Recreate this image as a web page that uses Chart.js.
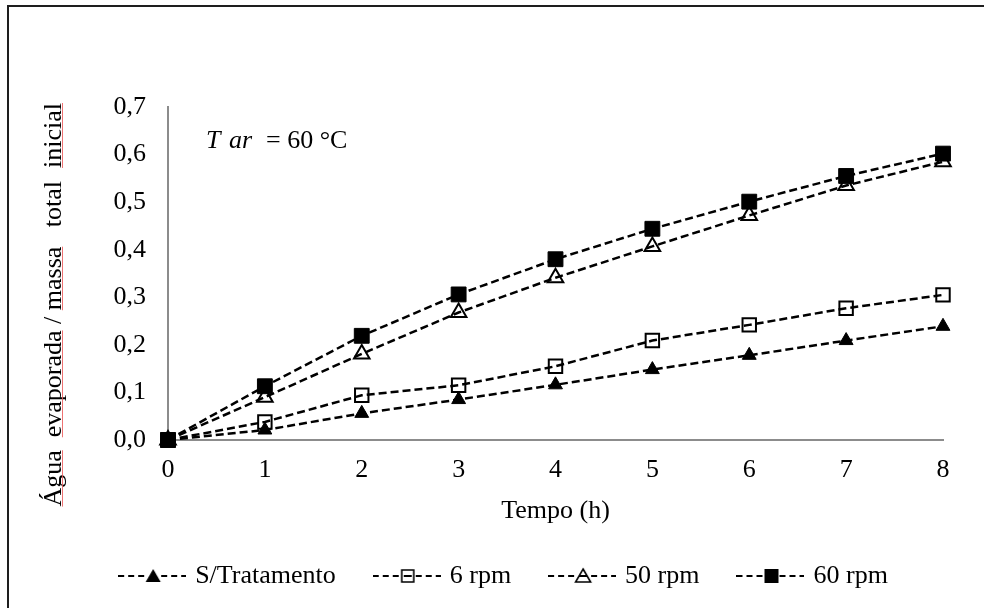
<!DOCTYPE html>
<html><head><meta charset="utf-8">
<script src="https://cdn.jsdelivr.net/npm/chart.js@4.4.1/dist/chart.umd.min.js"></script>
<style>
html,body{margin:0;padding:0;overflow:hidden;background:#fff;}
#wrap{position:relative;width:984px;height:608px;overflow:hidden;}
#frame{position:absolute;left:7px;top:5px;width:1100px;height:800px;border:2px solid #1e1e1e;box-sizing:border-box;pointer-events:none;}
canvas{position:absolute;left:0;top:0;}
</style></head>
<body><div id="wrap"><canvas id="c" width="984" height="608"></canvas><div id="frame"></div></div>
<script>
// ---- data ----
const timeLabels = ['0','1','2','3','4','5','6','7','8'];
const semTratamento = [0, 0.021, 0.056, 0.085, 0.116, 0.148, 0.178, 0.209, 0.239];
const rpm6  = [0, 0.038, 0.094, 0.115, 0.155, 0.209, 0.242, 0.277, 0.305];
const rpm50 = [0, 0.090, 0.181, 0.268, 0.341, 0.407, 0.472, 0.535, 0.585];
const rpm60 = [0, 0.113, 0.219, 0.306, 0.380, 0.444, 0.501, 0.555, 0.602];
const seriesNames = ['S/Tratamento', '6 rpm', '50 rpm', '60 rpm'];
const yTickLabels = ['0,0','0,1','0,2','0,3','0,4','0,5','0,6','0,7'];
const xTitle = 'Tempo (h)';
const yTitle = 'Água  evaporada / massa   total  inicial';
const yTitleUnderlined = ['Água', 'evaporada', 'massa', 'inicial'];
const noteItalic = ['T', 'ar'];
const noteUpright = '= 60 °C';

const FAM = "'Liberation Serif','Times New Roman',serif";
const FS = 26;
Chart.defaults.font.family = FAM;
Chart.defaults.font.size = FS;
Chart.defaults.color = '#000';

function makeIcon(kind) {
  const W = 68, H = 20, cy = 10, mx = 35;
  const c = document.createElement('canvas');
  c.width = W; c.height = H;
  const g = c.getContext('2d');
  g.strokeStyle = '#000'; g.fillStyle = '#000'; g.lineWidth = 2;
  const dashes = [[0,6],[10,16],[20,26],[43,49],[53,59],[63,68]];
  g.beginPath();
  dashes.forEach(d => { g.moveTo(d[0], cy); g.lineTo(d[1], cy); });
  if (kind === 'rectOpen' || kind === 'triOpen') { g.moveTo(mx - 4, cy); g.lineTo(mx + 4, cy); }
  g.stroke();
  g.beginPath();
  if (kind === 'triFill' || kind === 'triOpen') {
    g.moveTo(mx, cy - 7); g.lineTo(mx + 7.5, cy + 6); g.lineTo(mx - 7.5, cy + 6); g.closePath();
    if (kind === 'triFill') g.fill(); else { g.lineWidth = 1.6; g.stroke(); }
  } else if (kind === 'rectOpen') {
    g.lineWidth = 1.6; g.rect(mx - 6, cy - 6, 12, 12); g.stroke();
  } else {
    g.rect(mx - 7, cy - 7, 14, 14); g.fill();
  }
  return c;
}
const legendIcons = [makeIcon('triFill'), makeIcon('rectOpen'), makeIcon('triOpen'), makeIcon('rectFill')];

const base = { borderColor: '#000', borderWidth: 2.5, borderDash: [8, 4], tension: 0, fill: false, clip: false, pointBorderColor: '#000' };
const datasets = [
  Object.assign({}, base, { label: seriesNames[0], data: semTratamento, pointStyle: 'triangle', pointRadius: 8, pointBackgroundColor: '#000', pointBorderWidth: 1 }),
  Object.assign({}, base, { label: seriesNames[1], data: rpm6, pointStyle: 'rect', pointRadius: 9.5, pointBackgroundColor: 'rgba(0,0,0,0)', pointBorderWidth: 2 }),
  Object.assign({}, base, { label: seriesNames[2], data: rpm50, pointStyle: 'triangle', pointRadius: 9, pointBackgroundColor: 'rgba(0,0,0,0)', pointBorderWidth: 2 }),
  Object.assign({}, base, { label: seriesNames[3], data: rpm60, pointStyle: 'rect', pointRadius: 10.5, pointBackgroundColor: '#000', pointBorderWidth: 1 })
];

const extras = {
  id: 'extras',
  afterDraw(chart) {
    const ctx = chart.ctx;
    ctx.save();
    // rotated y-axis title with red underlines
    ctx.font = FS + 'px ' + FAM;
    ctx.fillStyle = '#000';
    ctx.translate(61, 103);
    ctx.rotate(-Math.PI / 2);
    ctx.textAlign = 'right';
    ctx.textBaseline = 'alphabetic';
    ctx.fillText(yTitle, 0, 0);
    const full = ctx.measureText(yTitle).width;
    ctx.strokeStyle = 'rgba(235,90,90,0.85)';
    ctx.lineWidth = 1;
    yTitleUnderlined.forEach(w => {
      const idx = yTitle.indexOf(w);
      const x0 = -full + ctx.measureText(yTitle.slice(0, idx)).width;
      const ww = ctx.measureText(w).width;
      ctx.beginPath(); ctx.moveTo(x0, 1.5); ctx.lineTo(x0 + ww, 1.5); ctx.stroke();
    });
    ctx.restore();
    // annotation
    ctx.save();
    ctx.fillStyle = '#000';
    ctx.textBaseline = 'alphabetic';
    ctx.textAlign = 'left';
    ctx.font = 'italic ' + FS + 'px ' + FAM;
    ctx.fillText(noteItalic[0], 206, 148);
    ctx.fillText(noteItalic[1], 229, 148);
    ctx.font = FS + 'px ' + FAM;
    ctx.fillText(noteUpright, 266, 148);
    ctx.restore();
  }
};

new Chart(document.getElementById('c'), {
  type: 'line',
  data: { labels: timeLabels, datasets: datasets },
  plugins: [extras],
  options: {
    responsive: false,
    animation: false,
    events: [],
    layout: { padding: { left: 67, right: 41, top: 107, bottom: 9 } },
    plugins: {
      tooltip: { enabled: false },
      legend: {
        position: 'bottom',
        labels: {
          usePointStyle: true,
          pointStyleWidth: 60,
          padding: 41,
          color: '#000',
          font: { size: FS, family: FAM },
          generateLabels(chart) {
            const items = Chart.defaults.plugins.legend.labels.generateLabels(chart);
            items.forEach((it, i) => { it.pointStyle = legendIcons[i]; });
            return items;
          }
        }
      }
    },
    scales: {
      x: {
        grid: { display: false, drawTicks: false },
        border: { display: true, color: '#8c8c8c', width: 2 },
        ticks: { padding: 15, maxRotation: 0, autoSkip: false, color: '#000', font: { size: FS, family: FAM } },
        title: { display: true, text: xTitle, color: '#000', font: { size: FS, family: FAM }, padding: { top: 0, bottom: -5 } },
        afterFit(s) { s.height = 82; }
      },
      y: {
        min: 0, max: 0.7,
        grid: { display: false, drawTicks: false },
        border: { display: true, color: '#8c8c8c', width: 2 },
        ticks: { stepSize: 0.1, padding: 22, color: '#000', font: { size: FS, family: FAM },
          callback: (v, i) => yTickLabels[i] },
        title: { display: false },
        afterFit(s) { s.width = 101; }
      }
    }
  }
});
</script>
</body></html>
